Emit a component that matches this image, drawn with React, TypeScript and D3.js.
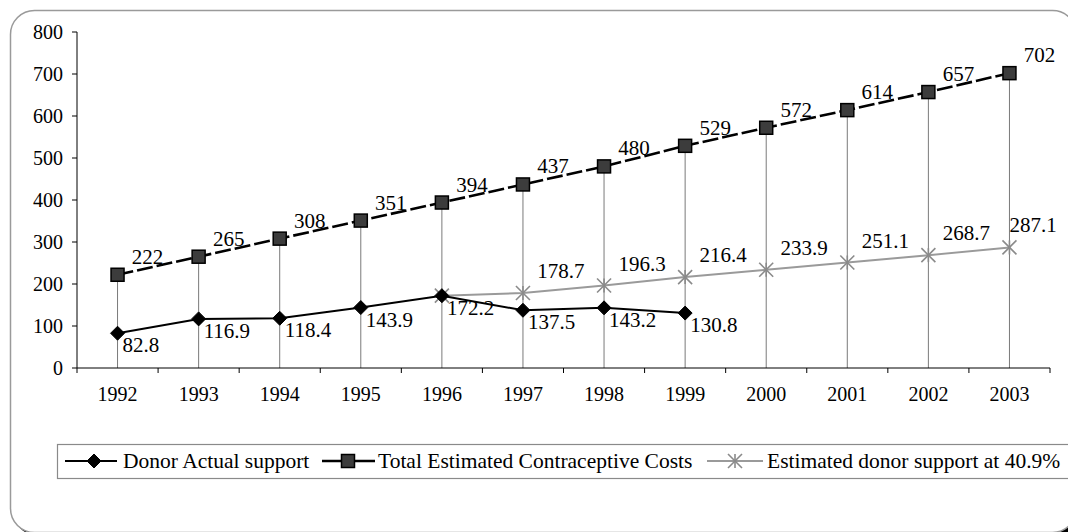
import React from "react";
import * as d3 from "d3";

const years = ["1992", "1993", "1994", "1995", "1996", "1997", "1998", "1999", "2000", "2001", "2002", "2003"];
const donorYears = ["1992", "1993", "1994", "1995", "1996", "1997", "1998", "1999"];
const donorActual = [82.8, 116.9, 118.4, 143.9, 172.2, 137.5, 143.2, 130.8];
const totalCosts = [222, 265, 308, 351, 394, 437, 480, 529, 572, 614, 657, 702];
const estimatedYears = ["1996", "1997", "1998", "1999", "2000", "2001", "2002", "2003"];
const estimatedSupport = [172.2, 178.7, 196.3, 216.4, 233.9, 251.1, 268.7, 287.1];
const yTicks = [0, 100, 200, 300, 400, 500, 600, 700, 800];
const legendLabels = [
  "Donor Actual support",
  "Total Estimated Contraceptive Costs",
  "Estimated donor support at 40.9%",
];

const W = 1068;
const H = 532;
const M = { left: 77, right: 1050, top: 32, bottom: 368 };
const FONT = "Liberation Serif";
const TS = { fontFamily: FONT };

function Diamond({ x, y, s = 7 }: { x: number; y: number; s?: number }) {
  return <path d={`M${x},${y - s}L${x + s},${y}L${x},${y + s}L${x - s},${y}Z`} fill="#000" stroke="#000" strokeWidth={1} />;
}
function Square({ x, y, s = 13 }: { x: number; y: number; s?: number }) {
  return <rect x={x - s / 2} y={y - s / 2} width={s} height={s} fill="#3c3c3c" stroke="#000" strokeWidth={1.5} />;
}
function Star({ x, y, s = 7 }: { x: number; y: number; s?: number }) {
  return (
    <g stroke="#8a8a8a" strokeWidth={1.6}>
      <line x1={x - s} y1={y - s} x2={x + s} y2={y + s} />
      <line x1={x - s} y1={y + s} x2={x + s} y2={y - s} />
      <line x1={x} y1={y - s} x2={x} y2={y + s} />
    </g>
  );
}

export default function App() {
  const x = d3.scaleBand<string>().domain(years).range([M.left, M.right]);
  const cx = (yr: string) => (x(yr) as number) + x.bandwidth() / 2;
  const y = d3.scaleLinear().domain([0, 800]).range([M.bottom, M.top]);

  const line = d3
    .line<[string, number]>()
    .x((d) => cx(d[0]))
    .y((d) => y(d[1]));

  const totalPts: [string, number][] = years.map((yr, i) => [yr, totalCosts[i]]);
  const donorPts: [string, number][] = donorYears.map((yr, i) => [yr, donorActual[i]]);
  const estPts: [string, number][] = estimatedYears.map((yr, i) => [yr, estimatedSupport[i]]);

  const boundaries = years.map((yr) => x(yr) as number).concat([M.right]);

  return (
    <div style={{ position: "absolute", left: 0, top: 0 }}>
      <svg width={W} height={H} style={{ display: "block" }}>
        <rect x={0} y={0} width={W} height={H} fill="#fff" />
        {/* frame */}
        <rect x={13.5} y={13.5} width={1066} height={522} rx={24} fill="#000" />
        <rect x={10.5} y={10.5} width={1066} height={522} rx={24} fill="#fff" stroke="#9a9a9a" strokeWidth={1.5} />

        {/* drop lines */}
        {totalPts.map(([yr, v]) => (
          <line key={"d" + yr} x1={cx(yr)} x2={cx(yr)} y1={y(v)} y2={M.bottom} stroke="#7a7a7a" strokeWidth={1} />
        ))}

        {/* axes */}
        <line x1={M.left} x2={M.left} y1={M.top} y2={M.bottom} stroke="#000" strokeWidth={1} />
        <line x1={M.left} x2={M.right} y1={M.bottom} y2={M.bottom} stroke="#000" strokeWidth={1} />
        {yTicks.map((t) => (
          <g key={"yt" + t}>
            <line x1={M.left - 5} x2={M.left} y1={y(t)} y2={y(t)} stroke="#000" />
            <text x={M.left - 14} y={y(t)} dy="0.35em" textAnchor="end" fontSize={20} style={TS}>
              {t}
            </text>
          </g>
        ))}
        {boundaries.map((b, i) => (
          <line key={"xt" + i} x1={b} x2={b} y1={M.bottom} y2={M.bottom + 5} stroke="#000" />
        ))}
        {years.map((yr) => (
          <text key={"xl" + yr} x={cx(yr)} y={M.bottom + 33} textAnchor="middle" fontSize={20} style={TS}>
            {yr}
          </text>
        ))}

        {/* estimated series */}
        <path d={line(estPts) || ""} fill="none" stroke="#9a9a9a" strokeWidth={2} />
        {/* donor series */}
        <path d={line(donorPts) || ""} fill="none" stroke="#000" strokeWidth={2} />
        {/* total series */}
        <path d={line(totalPts) || ""} fill="none" stroke="#000" strokeWidth={2.6} strokeDasharray="16,4" />

        {estPts.map(([yr, v]) => (
          <Star key={"s" + yr} x={cx(yr)} y={y(v)} />
        ))}
        {donorPts.map(([yr, v]) => (
          <Diamond key={"dm" + yr} x={cx(yr)} y={y(v)} />
        ))}
        {totalPts.map(([yr, v]) => (
          <Square key={"sq" + yr} x={cx(yr)} y={y(v)} />
        ))}

        {/* labels */}
        {totalPts.map(([yr, v]) => (
          <text key={"tl" + yr} x={cx(yr) + 30} y={y(v) - 11} textAnchor="middle" fontSize={21} style={TS}>
            {v}
          </text>
        ))}
        {donorPts.map(([yr, v]) => (
          <text key={"dl" + yr} x={cx(yr) + 5} y={y(v) + 19} textAnchor="start" fontSize={21} style={TS}>
            {v.toFixed(1)}
          </text>
        ))}
        {estPts.slice(1).map(([yr, v]) => (
          <text
            key={"el" + yr}
            x={Math.min(cx(yr) + 38, M.right - 17)}
            y={y(v) - 15}
            textAnchor="middle"
            fontSize={21}
            style={TS}
          >
            {v.toFixed(1)}
          </text>
        ))}

        {/* legend */}
        <rect x={57.5} y={444.5} width={1030} height={34} fill="#fff" stroke="#8a8a8a" strokeWidth={1.2} />
        <g>
          <line x1={65} x2={117} y1={461} y2={461} stroke="#000" strokeWidth={2} />
          <Diamond x={94} y={461} />
          <text x={123} y={468} fontSize={21.5} style={TS}>
            {legendLabels[0]}
          </text>
          <line x1={322} x2={375} y1={461} y2={461} stroke="#000" strokeWidth={2.6} />
          <Square x={348} y={461} />
          <text x={378} y={468} fontSize={21.5} style={TS}>
            {legendLabels[1]}
          </text>
          <line x1={707} x2={763} y1={461} y2={461} stroke="#9a9a9a" strokeWidth={2} />
          <Star x={735} y={461} />
          <text x={767} y={468} fontSize={21.5} style={TS}>
            {legendLabels[2]}
          </text>
        </g>
      </svg>
    </div>
  );
}
